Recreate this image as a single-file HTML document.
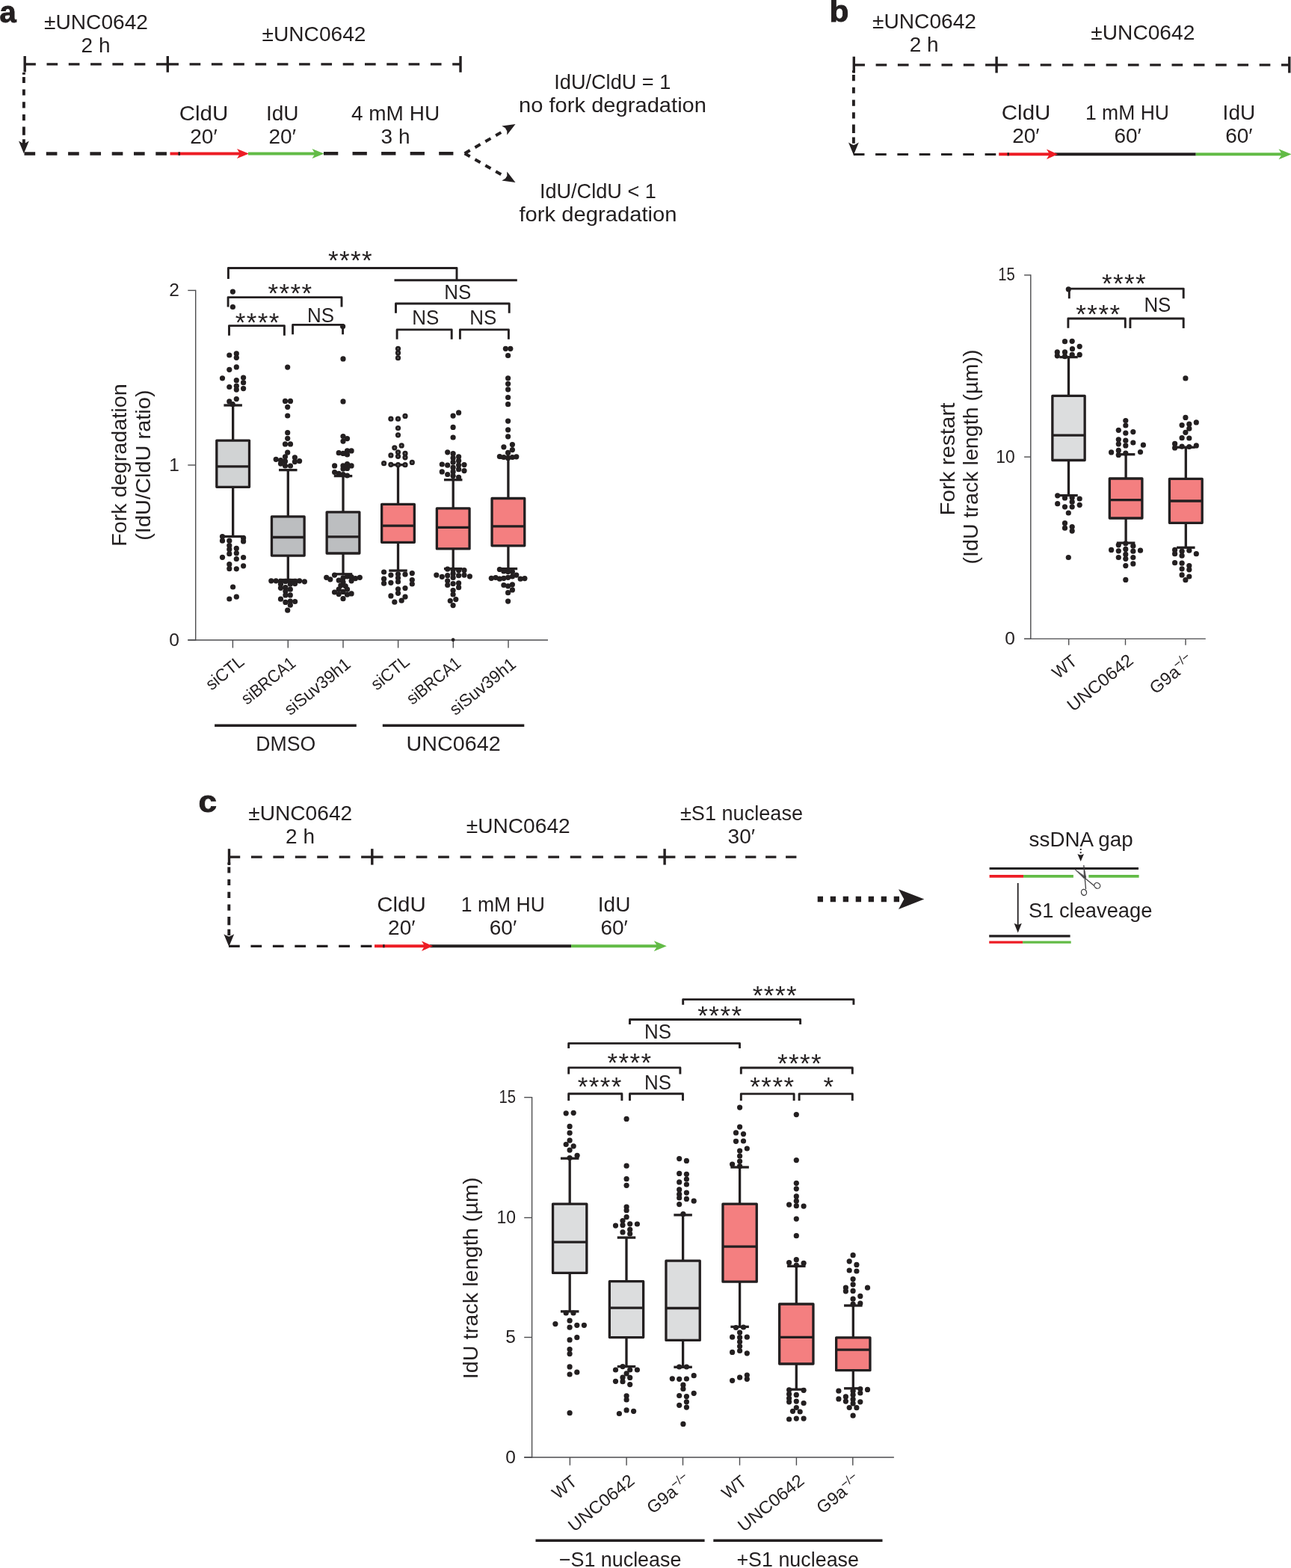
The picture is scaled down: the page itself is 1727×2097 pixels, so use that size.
<!DOCTYPE html>
<html lang="en">
<head>
<meta charset="utf-8">
<title>Fork degradation, fork restart and ssDNA gap assays</title>
<style>
html,body{margin:0;padding:0;background:#fff;}
body{width:1727px;height:2097px;overflow:hidden;}
svg{display:block;font-family:"Liberation Sans",sans-serif;}
</style>
</head>
<body>
<svg width="1727" height="2097" viewBox="0 0 1727 2097">
<rect width="1727" height="2097" fill="#fff"/>
<!-- panel a: schematic -->
<text x="-0.6" y="29.5" font-size="40" text-anchor="start" fill="#231f20" font-weight="bold" stroke="#231f20" stroke-width="0.9">a</text>
<text x="128.5" y="39.2" font-size="28" text-anchor="middle" fill="#231f20" textLength="139" lengthAdjust="spacingAndGlyphs">±UNC0642</text>
<text x="128" y="69.7" font-size="28" text-anchor="middle" fill="#231f20">2 h</text>
<text x="420" y="54.8" font-size="28" text-anchor="middle" fill="#231f20" textLength="139" lengthAdjust="spacingAndGlyphs">±UNC0642</text>
<line x1="33.2" y1="85.9" x2="224.3" y2="85.9" stroke="#231f20" stroke-width="3.2" stroke-linecap="butt" stroke-dasharray="14.65 14.65"/>
<line x1="224.3" y1="85.9" x2="616" y2="85.9" stroke="#231f20" stroke-width="3.2" stroke-linecap="butt" stroke-dasharray="14.65 14.65"/>
<line x1="33.2" y1="75" x2="33.2" y2="96.4" stroke="#231f20" stroke-width="3.4" stroke-linecap="butt"/>
<line x1="224.3" y1="75" x2="224.3" y2="96.7" stroke="#231f20" stroke-width="3.4" stroke-linecap="butt"/>
<line x1="616" y1="75" x2="616" y2="96.7" stroke="#231f20" stroke-width="3.4" stroke-linecap="butt"/>
<path d="M31.9 97.0V99.7M31.9 102.9V111.0M31.9 119.5V127.6M31.9 136.2V144.6M31.9 153.0V161.2M31.9 169.4V180.7M31.9 186.2V191.9" stroke="#231f20" stroke-width="3.9" fill="none"/>
<path d="M31.9 205.3 L25.0 188.5 Q28.9 191.10000000000002 31.9 191.9 Q34.9 191.10000000000002 38.8 188.5 Z" fill="#231f20"/>
<line x1="32.5" y1="205.5" x2="227" y2="205.5" stroke="#231f20" stroke-width="4.3" stroke-linecap="butt" stroke-dasharray="14.65 14.65"/>
<line x1="227.5" y1="205.5" x2="322" y2="205.5" stroke="#ed1c24" stroke-width="4.2" stroke-linecap="butt"/>
<path transform="translate(333 205.5) rotate(0)" d="M0 0 L-16 -6.5 L-12 0 L-16 6.5 Z" fill="#ed1c24"/>
<line x1="239.7" y1="203.3" x2="239.7" y2="207.8" stroke="#231f20" stroke-width="2.6" stroke-linecap="butt"/>
<line x1="332" y1="205.5" x2="422" y2="205.5" stroke="#62bb46" stroke-width="4.2" stroke-linecap="butt"/>
<path transform="translate(433.5 205.5) rotate(0)" d="M0 0 L-16 -6.5 L-12 0 L-16 6.5 Z" fill="#62bb46"/>
<line x1="433" y1="205.3" x2="606.4" y2="205.3" stroke="#231f20" stroke-width="4.4" stroke-linecap="butt" stroke-dasharray="19.3 19.25"/>
<text x="272.5" y="161" font-size="28" text-anchor="middle" fill="#231f20" textLength="65.6" lengthAdjust="spacingAndGlyphs">CldU</text>
<text x="272.5" y="192" font-size="28" text-anchor="middle" fill="#231f20">20′</text>
<text x="377.7" y="161" font-size="28" text-anchor="middle" fill="#231f20">IdU</text>
<text x="377.7" y="192" font-size="28" text-anchor="middle" fill="#231f20">20′</text>
<text x="529" y="161" font-size="28" text-anchor="middle" fill="#231f20">4 mM HU</text>
<text x="529" y="192" font-size="28" text-anchor="middle" fill="#231f20">3 h</text>
<line x1="621.6" y1="205.2" x2="680" y2="171.5" stroke="#231f20" stroke-width="4" stroke-linecap="butt" stroke-dasharray="8.2 7.8"/>
<path transform="translate(689.5 166) rotate(-30)" d="M0 0 L-17 -7.0 L-13 0 L-17 7.0 Z" fill="#231f20"/>
<line x1="621.6" y1="205.2" x2="680" y2="238.9" stroke="#231f20" stroke-width="4" stroke-linecap="butt" stroke-dasharray="8.2 7.8"/>
<path transform="translate(689.5 244) rotate(30)" d="M0 0 L-17 -7.0 L-13 0 L-17 7.0 Z" fill="#231f20"/>
<text x="819.3" y="119" font-size="28" text-anchor="middle" fill="#231f20" textLength="156" lengthAdjust="spacingAndGlyphs">IdU/CldU = 1</text>
<text x="819.5" y="149.7" font-size="28" text-anchor="middle" fill="#231f20" textLength="251" lengthAdjust="spacingAndGlyphs">no fork degradation</text>
<text x="799.9" y="265" font-size="28" text-anchor="middle" fill="#231f20" textLength="156" lengthAdjust="spacingAndGlyphs">IdU/CldU &lt; 1</text>
<text x="800" y="296" font-size="28" text-anchor="middle" fill="#231f20" textLength="211" lengthAdjust="spacingAndGlyphs">fork degradation</text>
<!-- panel a: chart -->
<line x1="261.7" y1="387.7" x2="261.7" y2="856.7" stroke="#4d4d4f" stroke-width="1.4" stroke-linecap="butt"/>
<line x1="251.29999999999998" y1="856" x2="733" y2="856" stroke="#4d4d4f" stroke-width="1.4" stroke-linecap="butt"/>
<line x1="251.29999999999998" y1="388.4" x2="261.7" y2="388.4" stroke="#4d4d4f" stroke-width="1.4" stroke-linecap="butt"/>
<text x="239.8" y="395.9" font-size="24.5" text-anchor="end" fill="#231f20">2</text>
<line x1="251.29999999999998" y1="622" x2="261.7" y2="622" stroke="#4d4d4f" stroke-width="1.4" stroke-linecap="butt"/>
<text x="239.8" y="629.5" font-size="24.5" text-anchor="end" fill="#231f20">1</text>
<line x1="251.29999999999998" y1="856" x2="261.7" y2="856" stroke="#4d4d4f" stroke-width="1.4" stroke-linecap="butt"/>
<text x="239.8" y="863.5" font-size="24.5" text-anchor="end" fill="#231f20">0</text>
<line x1="311.4" y1="856" x2="311.4" y2="866.5" stroke="#4d4d4f" stroke-width="1.4" stroke-linecap="butt"/>
<line x1="385.3" y1="856" x2="385.3" y2="866.5" stroke="#4d4d4f" stroke-width="1.4" stroke-linecap="butt"/>
<line x1="459" y1="856" x2="459" y2="866.5" stroke="#4d4d4f" stroke-width="1.4" stroke-linecap="butt"/>
<line x1="532.6" y1="856" x2="532.6" y2="866.5" stroke="#4d4d4f" stroke-width="1.4" stroke-linecap="butt"/>
<line x1="606.3" y1="856" x2="606.3" y2="866.5" stroke="#4d4d4f" stroke-width="1.4" stroke-linecap="butt"/>
<line x1="680" y1="856" x2="680" y2="866.5" stroke="#4d4d4f" stroke-width="1.4" stroke-linecap="butt"/>
<text x="169.5" y="622.1" font-size="28" text-anchor="middle" fill="#231f20" transform="rotate(-90 169.5 622.1)" textLength="217.5" lengthAdjust="spacingAndGlyphs">Fork degradation</text>
<text x="200.8" y="622.1" font-size="28" text-anchor="middle" fill="#231f20" transform="rotate(-90 200.8 622.1)" textLength="201.4" lengthAdjust="spacingAndGlyphs">(IdU/CldU ratio)</text>
<line x1="311.65" y1="542" x2="311.65" y2="589.1" stroke="#231f20" stroke-width="3.3" stroke-linecap="butt"/>
<line x1="311.65" y1="651.3" x2="311.65" y2="717.5" stroke="#231f20" stroke-width="3.3" stroke-linecap="butt"/>
<line x1="299.4" y1="542" x2="323.9" y2="542" stroke="#231f20" stroke-width="3.3" stroke-linecap="butt"/>
<line x1="299.4" y1="717.5" x2="323.9" y2="717.5" stroke="#231f20" stroke-width="3.3" stroke-linecap="butt"/>
<rect x="289.79999999999995" y="589.1" width="43.7" height="62.19999999999993" fill="#d1d3d4" stroke="#231f20" stroke-width="3.3" stroke-linejoin="round"/>
<line x1="289.79999999999995" y1="623.9" x2="333.49999999999994" y2="623.9" stroke="#231f20" stroke-width="3.3" stroke-linecap="butt"/>
<line x1="385.3" y1="628.6" x2="385.3" y2="690.9" stroke="#231f20" stroke-width="3.3" stroke-linecap="butt"/>
<line x1="385.3" y1="743.1" x2="385.3" y2="775.5" stroke="#231f20" stroke-width="3.3" stroke-linecap="butt"/>
<line x1="373.05" y1="628.6" x2="397.55" y2="628.6" stroke="#231f20" stroke-width="3.3" stroke-linecap="butt"/>
<line x1="373.05" y1="775.5" x2="397.55" y2="775.5" stroke="#231f20" stroke-width="3.3" stroke-linecap="butt"/>
<rect x="363.45" y="690.9" width="43.7" height="52.200000000000045" fill="#bcbec0" stroke="#231f20" stroke-width="3.3" stroke-linejoin="round"/>
<line x1="363.45" y1="718.5" x2="407.15" y2="718.5" stroke="#231f20" stroke-width="3.3" stroke-linecap="butt"/>
<line x1="459" y1="636.6" x2="459" y2="684.8" stroke="#231f20" stroke-width="3.3" stroke-linecap="butt"/>
<line x1="459" y1="740" x2="459" y2="767.8" stroke="#231f20" stroke-width="3.3" stroke-linecap="butt"/>
<line x1="446.75" y1="636.6" x2="471.25" y2="636.6" stroke="#231f20" stroke-width="3.3" stroke-linecap="butt"/>
<line x1="446.75" y1="767.8" x2="471.25" y2="767.8" stroke="#231f20" stroke-width="3.3" stroke-linecap="butt"/>
<rect x="437.15" y="684.8" width="43.7" height="55.200000000000045" fill="#bcbec0" stroke="#231f20" stroke-width="3.3" stroke-linejoin="round"/>
<line x1="437.15" y1="717.9" x2="480.84999999999997" y2="717.9" stroke="#231f20" stroke-width="3.3" stroke-linecap="butt"/>
<line x1="532.5" y1="621.7" x2="532.5" y2="674.4" stroke="#231f20" stroke-width="3.3" stroke-linecap="butt"/>
<line x1="532.5" y1="725.3" x2="532.5" y2="763.1" stroke="#231f20" stroke-width="3.3" stroke-linecap="butt"/>
<line x1="520.25" y1="621.7" x2="544.75" y2="621.7" stroke="#231f20" stroke-width="3.3" stroke-linecap="butt"/>
<line x1="520.25" y1="763.1" x2="544.75" y2="763.1" stroke="#231f20" stroke-width="3.3" stroke-linecap="butt"/>
<rect x="510.65" y="674.4" width="43.7" height="50.89999999999998" fill="#f47f80" stroke="#231f20" stroke-width="3.3" stroke-linejoin="round"/>
<line x1="510.65" y1="703.2" x2="554.35" y2="703.2" stroke="#231f20" stroke-width="3.3" stroke-linecap="butt"/>
<line x1="606.2" y1="641.7" x2="606.2" y2="679.8" stroke="#231f20" stroke-width="3.3" stroke-linecap="butt"/>
<line x1="606.2" y1="733.9" x2="606.2" y2="760.6" stroke="#231f20" stroke-width="3.3" stroke-linecap="butt"/>
<line x1="593.95" y1="641.7" x2="618.45" y2="641.7" stroke="#231f20" stroke-width="3.3" stroke-linecap="butt"/>
<line x1="593.95" y1="760.6" x2="618.45" y2="760.6" stroke="#231f20" stroke-width="3.3" stroke-linecap="butt"/>
<rect x="584.35" y="679.8" width="43.7" height="54.10000000000002" fill="#f47f80" stroke="#231f20" stroke-width="3.3" stroke-linejoin="round"/>
<line x1="584.35" y1="705.4" x2="628.0500000000001" y2="705.4" stroke="#231f20" stroke-width="3.3" stroke-linecap="butt"/>
<line x1="679.9" y1="612.4" x2="679.9" y2="666.5" stroke="#231f20" stroke-width="3.3" stroke-linecap="butt"/>
<line x1="679.9" y1="729.8" x2="679.9" y2="760.6" stroke="#231f20" stroke-width="3.3" stroke-linecap="butt"/>
<line x1="667.65" y1="612.4" x2="692.15" y2="612.4" stroke="#231f20" stroke-width="3.3" stroke-linecap="butt"/>
<line x1="667.65" y1="760.6" x2="692.15" y2="760.6" stroke="#231f20" stroke-width="3.3" stroke-linecap="butt"/>
<rect x="658.05" y="666.5" width="43.7" height="63.299999999999955" fill="#f47f80" stroke="#231f20" stroke-width="3.3" stroke-linejoin="round"/>
<line x1="658.05" y1="703.9" x2="701.75" y2="703.9" stroke="#231f20" stroke-width="3.3" stroke-linecap="butt"/>
<g fill="#231f20"><circle cx="306.8" cy="475.0" r="3.6"/><circle cx="316.3" cy="472.9" r="3.6"/><circle cx="316.3" cy="478.3" r="3.6"/><circle cx="316.3" cy="490.9" r="3.6"/><circle cx="306.8" cy="494.3" r="3.6"/><circle cx="297.5" cy="505.8" r="3.6"/><circle cx="325.6" cy="505.0" r="3.6"/><circle cx="316.3" cy="508.7" r="3.6"/><circle cx="325.6" cy="511.7" r="3.6"/><circle cx="306.8" cy="517.5" r="3.6"/><circle cx="316.3" cy="516.2" r="3.6"/><circle cx="316.3" cy="521.1" r="3.6"/><circle cx="325.6" cy="519.6" r="3.6"/><circle cx="316.3" cy="533.6" r="3.6"/><circle cx="306.8" cy="536.9" r="3.6"/><circle cx="311.2" cy="540.7" r="3.6"/><circle cx="297.5" cy="717.5" r="3.6"/><circle cx="325.6" cy="719.4" r="3.6"/><circle cx="297.5" cy="723.2" r="3.6"/><circle cx="306.8" cy="723.2" r="3.6"/><circle cx="325.6" cy="723.9" r="3.6"/><circle cx="306.8" cy="729.6" r="3.6"/><circle cx="306.8" cy="734.7" r="3.6"/><circle cx="316.3" cy="733.4" r="3.6"/><circle cx="306.8" cy="740.7" r="3.6"/><circle cx="316.3" cy="739.8" r="3.6"/><circle cx="297.5" cy="745.3" r="3.6"/><circle cx="325.6" cy="745.5" r="3.6"/><circle cx="316.3" cy="747.5" r="3.6"/><circle cx="306.8" cy="754.7" r="3.6"/><circle cx="325.6" cy="756.8" r="3.6"/><circle cx="306.8" cy="760.6" r="3.6"/><circle cx="316.3" cy="760.8" r="3.6"/><circle cx="311.6" cy="785.0" r="3.6"/><circle cx="316.3" cy="798.2" r="3.6"/><circle cx="306.8" cy="801.0" r="3.6"/><circle cx="384.7" cy="491.1" r="3.6"/><circle cx="381.5" cy="536.4" r="3.6"/><circle cx="388.5" cy="536.4" r="3.6"/><circle cx="384.7" cy="544.3" r="3.6"/><circle cx="384.7" cy="556.0" r="3.6"/><circle cx="384.7" cy="578.7" r="3.6"/><circle cx="384.7" cy="586.3" r="3.6"/><circle cx="381.5" cy="593.9" r="3.6"/><circle cx="388.5" cy="593.9" r="3.6"/><circle cx="384.7" cy="605.2" r="3.6"/><circle cx="381.5" cy="610.8" r="3.6"/><circle cx="394.4" cy="611.8" r="3.6"/><circle cx="369.2" cy="614.3" r="3.6"/><circle cx="375.5" cy="615.6" r="3.6"/><circle cx="381.5" cy="616.9" r="3.6"/><circle cx="394.4" cy="617.6" r="3.6"/><circle cx="400.6" cy="616.6" r="3.6"/><circle cx="375.5" cy="620.1" r="3.6"/><circle cx="381.5" cy="623.0" r="3.6"/><circle cx="388.5" cy="623.0" r="3.6"/><circle cx="362.8" cy="776.8" r="3.6"/><circle cx="369.2" cy="776.8" r="3.6"/><circle cx="375.5" cy="777.4" r="3.6"/><circle cx="381.9" cy="777.4" r="3.6"/><circle cx="388.3" cy="777.4" r="3.6"/><circle cx="394.6" cy="777.4" r="3.6"/><circle cx="400.6" cy="776.8" r="3.6"/><circle cx="407.4" cy="777.8" r="3.6"/><circle cx="375.5" cy="781.2" r="3.6"/><circle cx="388.3" cy="781.2" r="3.6"/><circle cx="394.6" cy="780.6" r="3.6"/><circle cx="375.5" cy="786.3" r="3.6"/><circle cx="381.9" cy="785.7" r="3.6"/><circle cx="388.3" cy="788.2" r="3.6"/><circle cx="381.9" cy="790.8" r="3.6"/><circle cx="381.9" cy="795.9" r="3.6"/><circle cx="388.3" cy="795.9" r="3.6"/><circle cx="375.5" cy="801.2" r="3.6"/><circle cx="381.9" cy="805.4" r="3.6"/><circle cx="388.3" cy="804.1" r="3.6"/><circle cx="394.6" cy="804.5" r="3.6"/><circle cx="388.3" cy="809.2" r="3.6"/><circle cx="384.7" cy="816.2" r="3.6"/><circle cx="459.0" cy="479.9" r="3.6"/><circle cx="459.0" cy="536.9" r="3.6"/><circle cx="459.0" cy="583.5" r="3.6"/><circle cx="464.5" cy="586.6" r="3.6"/><circle cx="459.0" cy="590.1" r="3.6"/><circle cx="470.1" cy="602.9" r="3.6"/><circle cx="464.5" cy="602.9" r="3.6"/><circle cx="453.2" cy="605.7" r="3.6"/><circle cx="459.0" cy="606.4" r="3.6"/><circle cx="464.5" cy="608.0" r="3.6"/><circle cx="447.6" cy="622.9" r="3.6"/><circle cx="459.0" cy="622.9" r="3.6"/><circle cx="464.5" cy="620.7" r="3.6"/><circle cx="470.1" cy="622.9" r="3.6"/><circle cx="459.0" cy="627.1" r="3.6"/><circle cx="464.5" cy="626.4" r="3.6"/><circle cx="447.6" cy="631.5" r="3.6"/><circle cx="453.2" cy="633.4" r="3.6"/><circle cx="459.0" cy="634.5" r="3.6"/><circle cx="464.5" cy="636.0" r="3.6"/><circle cx="436.7" cy="772.3" r="3.6"/><circle cx="447.5" cy="769.1" r="3.6"/><circle cx="441.8" cy="774.8" r="3.6"/><circle cx="453.2" cy="776.1" r="3.6"/><circle cx="459.0" cy="772.9" r="3.6"/><circle cx="464.5" cy="771.0" r="3.6"/><circle cx="470.1" cy="771.7" r="3.6"/><circle cx="475.5" cy="773.6" r="3.6"/><circle cx="481.3" cy="772.3" r="3.6"/><circle cx="470.1" cy="776.8" r="3.6"/><circle cx="459.0" cy="778.7" r="3.6"/><circle cx="455.8" cy="783.1" r="3.6"/><circle cx="462.2" cy="783.8" r="3.6"/><circle cx="453.2" cy="788.2" r="3.6"/><circle cx="464.5" cy="788.2" r="3.6"/><circle cx="447.5" cy="792.0" r="3.6"/><circle cx="459.0" cy="791.4" r="3.6"/><circle cx="453.2" cy="794.6" r="3.6"/><circle cx="464.5" cy="795.2" r="3.6"/><circle cx="470.1" cy="793.9" r="3.6"/><circle cx="459.0" cy="800.7" r="3.6"/><circle cx="532.5" cy="466.3" r="3.6"/><circle cx="532.5" cy="471.9" r="3.6"/><circle cx="532.5" cy="478.7" r="3.6"/><circle cx="522.9" cy="560.2" r="3.6"/><circle cx="532.5" cy="560.2" r="3.6"/><circle cx="542.0" cy="556.4" r="3.6"/><circle cx="532.5" cy="572.5" r="3.6"/><circle cx="532.5" cy="581.8" r="3.6"/><circle cx="537.2" cy="595.9" r="3.6"/><circle cx="527.8" cy="598.8" r="3.6"/><circle cx="532.5" cy="604.8" r="3.6"/><circle cx="542.0" cy="606.4" r="3.6"/><circle cx="522.9" cy="608.9" r="3.6"/><circle cx="532.5" cy="610.3" r="3.6"/><circle cx="542.0" cy="611.8" r="3.6"/><circle cx="513.6" cy="619.7" r="3.6"/><circle cx="522.9" cy="621.3" r="3.6"/><circle cx="532.5" cy="621.7" r="3.6"/><circle cx="542.0" cy="621.7" r="3.6"/><circle cx="551.3" cy="618.4" r="3.6"/><circle cx="513.6" cy="765.0" r="3.6"/><circle cx="551.3" cy="766.6" r="3.6"/><circle cx="522.9" cy="769.1" r="3.6"/><circle cx="532.5" cy="767.8" r="3.6"/><circle cx="542.0" cy="768.2" r="3.6"/><circle cx="513.6" cy="774.2" r="3.6"/><circle cx="532.5" cy="772.9" r="3.6"/><circle cx="551.3" cy="775.5" r="3.6"/><circle cx="513.6" cy="780.2" r="3.6"/><circle cx="522.9" cy="779.3" r="3.6"/><circle cx="532.5" cy="778.0" r="3.6"/><circle cx="551.3" cy="781.0" r="3.6"/><circle cx="532.5" cy="787.8" r="3.6"/><circle cx="542.0" cy="786.6" r="3.6"/><circle cx="532.5" cy="793.3" r="3.6"/><circle cx="522.9" cy="796.9" r="3.6"/><circle cx="542.0" cy="798.2" r="3.6"/><circle cx="537.2" cy="803.2" r="3.6"/><circle cx="527.8" cy="805.2" r="3.6"/><circle cx="613.6" cy="551.9" r="3.6"/><circle cx="606.1" cy="556.1" r="3.6"/><circle cx="606.1" cy="571.4" r="3.6"/><circle cx="606.1" cy="585.0" r="3.6"/><circle cx="598.7" cy="604.8" r="3.6"/><circle cx="606.1" cy="606.7" r="3.6"/><circle cx="613.6" cy="610.8" r="3.6"/><circle cx="606.1" cy="612.4" r="3.6"/><circle cx="613.6" cy="616.2" r="3.6"/><circle cx="606.1" cy="618.2" r="3.6"/><circle cx="591.3" cy="621.0" r="3.6"/><circle cx="598.7" cy="622.2" r="3.6"/><circle cx="613.6" cy="622.0" r="3.6"/><circle cx="621.0" cy="621.6" r="3.6"/><circle cx="606.1" cy="625.2" r="3.6"/><circle cx="613.6" cy="627.7" r="3.6"/><circle cx="591.3" cy="630.9" r="3.6"/><circle cx="621.0" cy="629.6" r="3.6"/><circle cx="606.1" cy="630.9" r="3.6"/><circle cx="598.7" cy="634.5" r="3.6"/><circle cx="606.1" cy="636.6" r="3.6"/><circle cx="613.6" cy="638.3" r="3.6"/><circle cx="598.7" cy="761.1" r="3.6"/><circle cx="606.1" cy="762.1" r="3.6"/><circle cx="613.6" cy="762.7" r="3.6"/><circle cx="621.0" cy="762.7" r="3.6"/><circle cx="583.8" cy="769.1" r="3.6"/><circle cx="591.3" cy="771.3" r="3.6"/><circle cx="598.7" cy="769.7" r="3.6"/><circle cx="606.1" cy="767.2" r="3.6"/><circle cx="613.6" cy="769.7" r="3.6"/><circle cx="621.0" cy="769.1" r="3.6"/><circle cx="628.4" cy="770.8" r="3.6"/><circle cx="606.1" cy="772.5" r="3.6"/><circle cx="598.7" cy="776.8" r="3.6"/><circle cx="606.1" cy="780.6" r="3.6"/><circle cx="613.6" cy="779.9" r="3.6"/><circle cx="598.7" cy="782.5" r="3.6"/><circle cx="613.6" cy="785.7" r="3.6"/><circle cx="606.1" cy="789.5" r="3.6"/><circle cx="606.1" cy="795.0" r="3.6"/><circle cx="609.8" cy="801.6" r="3.6"/><circle cx="602.3" cy="803.5" r="3.6"/><circle cx="606.1" cy="809.6" r="3.6"/><circle cx="676.4" cy="466.3" r="3.6"/><circle cx="682.8" cy="466.3" r="3.6"/><circle cx="679.6" cy="475.5" r="3.6"/><circle cx="679.6" cy="505.8" r="3.6"/><circle cx="679.6" cy="513.3" r="3.6"/><circle cx="679.6" cy="520.8" r="3.6"/><circle cx="679.6" cy="531.5" r="3.6"/><circle cx="679.6" cy="540.7" r="3.6"/><circle cx="679.6" cy="563.1" r="3.6"/><circle cx="679.6" cy="574.8" r="3.6"/><circle cx="679.6" cy="583.8" r="3.6"/><circle cx="685.4" cy="594.6" r="3.6"/><circle cx="673.9" cy="597.8" r="3.6"/><circle cx="685.4" cy="601.6" r="3.6"/><circle cx="679.6" cy="605.4" r="3.6"/><circle cx="668.4" cy="610.5" r="3.6"/><circle cx="673.9" cy="611.5" r="3.6"/><circle cx="679.6" cy="612.4" r="3.6"/><circle cx="685.4" cy="611.5" r="3.6"/><circle cx="690.8" cy="610.8" r="3.6"/><circle cx="668.4" cy="761.5" r="3.6"/><circle cx="673.9" cy="764.0" r="3.6"/><circle cx="679.6" cy="764.6" r="3.6"/><circle cx="685.4" cy="764.6" r="3.6"/><circle cx="690.8" cy="769.1" r="3.6"/><circle cx="657.3" cy="773.3" r="3.6"/><circle cx="663.1" cy="772.5" r="3.6"/><circle cx="668.4" cy="774.2" r="3.6"/><circle cx="673.9" cy="773.3" r="3.6"/><circle cx="679.6" cy="772.3" r="3.6"/><circle cx="685.4" cy="771.0" r="3.6"/><circle cx="696.2" cy="774.2" r="3.6"/><circle cx="701.9" cy="773.6" r="3.6"/><circle cx="673.9" cy="782.5" r="3.6"/><circle cx="679.6" cy="783.8" r="3.6"/><circle cx="685.4" cy="781.8" r="3.6"/><circle cx="685.4" cy="788.9" r="3.6"/><circle cx="679.6" cy="792.7" r="3.6"/><circle cx="679.6" cy="804.1" r="3.6"/><circle cx="311.4" cy="390.1" r="3.6"/><circle cx="311.4" cy="410.5" r="3.6"/><circle cx="458.6" cy="436.5" r="3.6"/></g>
<g fill="#77787b"><circle cx="532.5" cy="466.3" r="0.9"/><circle cx="532.5" cy="471.9" r="0.9"/><circle cx="532.5" cy="478.7" r="0.9"/><circle cx="522.9" cy="560.2" r="0.9"/><circle cx="532.5" cy="560.2" r="0.9"/><circle cx="542.0" cy="556.4" r="0.9"/><circle cx="532.5" cy="572.5" r="0.9"/><circle cx="532.5" cy="581.8" r="0.9"/><circle cx="537.2" cy="595.9" r="0.9"/><circle cx="527.8" cy="598.8" r="0.9"/><circle cx="532.5" cy="604.8" r="0.9"/><circle cx="542.0" cy="606.4" r="0.9"/><circle cx="522.9" cy="608.9" r="0.9"/><circle cx="532.5" cy="610.3" r="0.9"/><circle cx="542.0" cy="611.8" r="0.9"/><circle cx="513.6" cy="619.7" r="0.9"/><circle cx="522.9" cy="621.3" r="0.9"/><circle cx="532.5" cy="621.7" r="0.9"/><circle cx="542.0" cy="621.7" r="0.9"/><circle cx="551.3" cy="618.4" r="0.9"/></g>
<g fill="#231f20"><circle cx="606.1" cy="855.7" r="2.4"/></g>
<path d="M305.4 373 V358.5 H611 V374.8" stroke="#231f20" stroke-width="2.9" fill="none" stroke-linejoin="round"/>
<line x1="527.5" y1="374.8" x2="691.8" y2="374.8" stroke="#231f20" stroke-width="2.9" stroke-linecap="butt"/>
<text x="469.1" y="360.48" font-size="35" text-anchor="middle" fill="#231f20" letter-spacing="1.4">****</text>
<text x="612.3" y="400.4" font-size="27" text-anchor="middle" fill="#231f20" textLength="36" lengthAdjust="spacingAndGlyphs">NS</text>
<path d="M529.5 418.7 V406 H681.2 V418.7" stroke="#231f20" stroke-width="2.9" fill="none" stroke-linejoin="round"/>
<path d="M305.1 410.6 V397.6 H457 V410.6" stroke="#231f20" stroke-width="2.9" fill="none" stroke-linejoin="round"/>
<text x="388.6" y="403.88" font-size="35" text-anchor="middle" fill="#231f20" letter-spacing="1.4">****</text>
<path d="M306.5 448.7 V435.6 H380.4 V448.7" stroke="#231f20" stroke-width="2.9" fill="none" stroke-linejoin="round"/>
<text x="344.7" y="442.98" font-size="35" text-anchor="middle" fill="#231f20" letter-spacing="1.4">****</text>
<path d="M391.6 447.2 V434.4 H458.6 V447.2" stroke="#231f20" stroke-width="2.9" fill="none" stroke-linejoin="round"/>
<text x="429" y="430.6" font-size="27" text-anchor="middle" fill="#231f20" textLength="36" lengthAdjust="spacingAndGlyphs">NS</text>
<path d="M531.1 453.8 V440.9 H604.2 V453.8" stroke="#231f20" stroke-width="2.9" fill="none" stroke-linejoin="round"/>
<text x="569.3" y="433.6" font-size="27" text-anchor="middle" fill="#231f20" textLength="36" lengthAdjust="spacingAndGlyphs">NS</text>
<path d="M615.4 453.8 V440.9 H680.4 V453.8" stroke="#231f20" stroke-width="2.9" fill="none" stroke-linejoin="round"/>
<text x="646.3" y="433.6" font-size="27" text-anchor="middle" fill="#231f20" textLength="36" lengthAdjust="spacingAndGlyphs">NS</text>
<text x="328.2" y="887.4" font-size="23.3" text-anchor="end" fill="#231f20" transform="rotate(-39 328.2 887.4)" textLength="58.3" lengthAdjust="spacingAndGlyphs">siCTL</text>
<text x="397" y="889.5" font-size="23.3" text-anchor="end" fill="#231f20" transform="rotate(-39 397 889.5)" textLength="85.5" lengthAdjust="spacingAndGlyphs">siBRCA1</text>
<text x="470.6" y="890.8" font-size="23.3" text-anchor="end" fill="#231f20" transform="rotate(-39 470.6 890.8)" textLength="106.1" lengthAdjust="spacingAndGlyphs">siSuv39h1</text>
<text x="549.4" y="887.4" font-size="23.3" text-anchor="end" fill="#231f20" transform="rotate(-39 549.4 887.4)" textLength="58.3" lengthAdjust="spacingAndGlyphs">siCTL</text>
<text x="618.2" y="889.5" font-size="23.3" text-anchor="end" fill="#231f20" transform="rotate(-39 618.2 889.5)" textLength="85.5" lengthAdjust="spacingAndGlyphs">siBRCA1</text>
<text x="691.8" y="890.8" font-size="23.3" text-anchor="end" fill="#231f20" transform="rotate(-39 691.8 890.8)" textLength="106.1" lengthAdjust="spacingAndGlyphs">siSuv39h1</text>
<line x1="287.1" y1="970.3" x2="476.8" y2="970.3" stroke="#231f20" stroke-width="3.5" stroke-linecap="butt"/>
<line x1="511.8" y1="970.3" x2="701.3" y2="970.3" stroke="#231f20" stroke-width="3.5" stroke-linecap="butt"/>
<text x="382.3" y="1004.3" font-size="27" text-anchor="middle" fill="#231f20" textLength="80" lengthAdjust="spacingAndGlyphs">DMSO</text>
<text x="606.6" y="1004.3" font-size="27" text-anchor="middle" fill="#231f20" textLength="126" lengthAdjust="spacingAndGlyphs">UNC0642</text>
<!-- panel b: schematic -->
<text x="1109.6" y="29.3" font-size="40" text-anchor="start" fill="#231f20" font-weight="bold" textLength="26" lengthAdjust="spacingAndGlyphs" stroke="#231f20" stroke-width="0.9">b</text>
<text x="1236.5" y="38" font-size="28" text-anchor="middle" fill="#231f20" textLength="139" lengthAdjust="spacingAndGlyphs">±UNC0642</text>
<text x="1236.1" y="68.9" font-size="28" text-anchor="middle" fill="#231f20">2 h</text>
<text x="1528.8" y="53.4" font-size="28" text-anchor="middle" fill="#231f20" textLength="139" lengthAdjust="spacingAndGlyphs">±UNC0642</text>
<line x1="1142.3" y1="86.8" x2="1333.1" y2="86.8" stroke="#231f20" stroke-width="3.2" stroke-linecap="butt" stroke-dasharray="14.65 14.65"/>
<line x1="1333.1" y1="86.8" x2="1724.8" y2="86.8" stroke="#231f20" stroke-width="3.2" stroke-linecap="butt" stroke-dasharray="14.65 14.65"/>
<line x1="1142.3" y1="75.7" x2="1142.3" y2="97.6" stroke="#231f20" stroke-width="3.4" stroke-linecap="butt"/>
<line x1="1333.1" y1="75.7" x2="1333.1" y2="97.5" stroke="#231f20" stroke-width="3.4" stroke-linecap="butt"/>
<line x1="1724.8" y1="75.7" x2="1724.8" y2="97.5" stroke="#231f20" stroke-width="3.4" stroke-linecap="butt"/>
<path d="M1141.9 94.2V96.9M1141.9 100.1V108.2M1141.9 116.7V124.8M1141.9 133.4V141.8M1141.9 150.2V158.4M1141.9 166.6V177.9M1141.9 183.4V191.7" stroke="#231f20" stroke-width="3.9" fill="none"/>
<path d="M1141.9 207.3 L1135.0 190.5 Q1138.9 193.10000000000002 1141.9 193.9 Q1144.9 193.10000000000002 1148.8000000000002 190.5 Z" fill="#231f20"/>
<line x1="1141.8" y1="206.5" x2="1336" y2="206.5" stroke="#231f20" stroke-width="3.2" stroke-linecap="butt" stroke-dasharray="14.65 14.65"/>
<line x1="1336.2" y1="206.2" x2="1404" y2="206.2" stroke="#ed1c24" stroke-width="4.1" stroke-linecap="butt"/>
<line x1="1411" y1="206.2" x2="1599.7" y2="206.2" stroke="#231f20" stroke-width="4.1" stroke-linecap="butt"/>
<path transform="translate(1415 206.2) rotate(0)" d="M0 0 L-15 -6.75 L-11 0 L-15 6.75 Z" fill="#ed1c24"/>
<line x1="1348.7" y1="204.1" x2="1348.7" y2="208.3" stroke="#231f20" stroke-width="2.4" stroke-linecap="butt"/>
<line x1="1599.7" y1="206.2" x2="1716" y2="206.2" stroke="#62bb46" stroke-width="4.1" stroke-linecap="butt"/>
<path transform="translate(1727.5 206.2) rotate(0)" d="M0 0 L-17 -7.0 L-12.5 0 L-17 7.0 Z" fill="#62bb46"/>
<text x="1372.6" y="159.7" font-size="28" text-anchor="middle" fill="#231f20" textLength="65.6" lengthAdjust="spacingAndGlyphs">CldU</text>
<text x="1372.4" y="190.8" font-size="28" text-anchor="middle" fill="#231f20">20′</text>
<text x="1508" y="159.7" font-size="28" text-anchor="middle" fill="#231f20" textLength="112" lengthAdjust="spacingAndGlyphs">1 mM HU</text>
<text x="1508.6" y="190.8" font-size="28" text-anchor="middle" fill="#231f20">60′</text>
<text x="1657.4" y="159.7" font-size="28" text-anchor="middle" fill="#231f20">IdU</text>
<text x="1657.4" y="190.8" font-size="28" text-anchor="middle" fill="#231f20">60′</text>
<!-- panel b: chart -->
<line x1="1378.8" y1="367.2" x2="1378.8" y2="855.1" stroke="#4d4d4f" stroke-width="1.4" stroke-linecap="butt"/>
<line x1="1370.1" y1="854.4" x2="1612.8" y2="854.4" stroke="#4d4d4f" stroke-width="1.4" stroke-linecap="butt"/>
<line x1="1370.1" y1="367.9" x2="1378.8" y2="367.9" stroke="#4d4d4f" stroke-width="1.4" stroke-linecap="butt"/>
<text x="1357.8" y="375.4" font-size="24.5" text-anchor="end" fill="#231f20" textLength="22.5" lengthAdjust="spacingAndGlyphs">15</text>
<line x1="1370.1" y1="611.1" x2="1378.8" y2="611.1" stroke="#4d4d4f" stroke-width="1.4" stroke-linecap="butt"/>
<text x="1357.8" y="618.6" font-size="24.5" text-anchor="end" fill="#231f20" textLength="25.5" lengthAdjust="spacingAndGlyphs">10</text>
<line x1="1370.1" y1="854.4" x2="1378.8" y2="854.4" stroke="#4d4d4f" stroke-width="1.4" stroke-linecap="butt"/>
<text x="1357.8" y="861.9" font-size="24.5" text-anchor="end" fill="#231f20">0</text>
<line x1="1429.7" y1="854.4" x2="1429.7" y2="862.6999999999999" stroke="#4d4d4f" stroke-width="1.4" stroke-linecap="butt"/>
<line x1="1505.5" y1="854.4" x2="1505.5" y2="862.6999999999999" stroke="#4d4d4f" stroke-width="1.4" stroke-linecap="butt"/>
<line x1="1586" y1="854.4" x2="1586" y2="862.6999999999999" stroke="#4d4d4f" stroke-width="1.4" stroke-linecap="butt"/>
<text x="1277.4" y="614" font-size="28" text-anchor="middle" fill="#231f20" transform="rotate(-90 1277.4 614)" textLength="151" lengthAdjust="spacingAndGlyphs">Fork restart</text>
<text x="1307.8" y="611" font-size="28" text-anchor="middle" fill="#231f20" transform="rotate(-90 1307.8 611)" textLength="287" lengthAdjust="spacingAndGlyphs">(IdU track length (µm))</text>
<line x1="1429.5" y1="477.6" x2="1429.5" y2="529.4" stroke="#231f20" stroke-width="3.3" stroke-linecap="butt"/>
<line x1="1429.5" y1="615.5" x2="1429.5" y2="662.6" stroke="#231f20" stroke-width="3.3" stroke-linecap="butt"/>
<line x1="1417.25" y1="477.6" x2="1441.75" y2="477.6" stroke="#231f20" stroke-width="3.3" stroke-linecap="butt"/>
<line x1="1417.25" y1="662.6" x2="1441.75" y2="662.6" stroke="#231f20" stroke-width="3.3" stroke-linecap="butt"/>
<rect x="1407.85" y="529.4" width="43.3" height="86.10000000000002" fill="#dcddde" stroke="#231f20" stroke-width="3.3" stroke-linejoin="round"/>
<line x1="1407.85" y1="582.2" x2="1451.1499999999999" y2="582.2" stroke="#231f20" stroke-width="3.3" stroke-linecap="butt"/>
<line x1="1506.1" y1="607.7" x2="1506.1" y2="640" stroke="#231f20" stroke-width="3.3" stroke-linecap="butt"/>
<line x1="1506.1" y1="693" x2="1506.1" y2="726.1" stroke="#231f20" stroke-width="3.3" stroke-linecap="butt"/>
<line x1="1493.85" y1="607.7" x2="1518.35" y2="607.7" stroke="#231f20" stroke-width="3.3" stroke-linecap="butt"/>
<line x1="1493.85" y1="726.1" x2="1518.35" y2="726.1" stroke="#231f20" stroke-width="3.3" stroke-linecap="butt"/>
<rect x="1484.3" y="640" width="43.6" height="53" fill="#f47f80" stroke="#231f20" stroke-width="3.3" stroke-linejoin="round"/>
<line x1="1484.3" y1="668.7" x2="1527.8999999999999" y2="668.7" stroke="#231f20" stroke-width="3.3" stroke-linecap="butt"/>
<line x1="1586.3" y1="598.2" x2="1586.3" y2="640.4" stroke="#231f20" stroke-width="3.3" stroke-linecap="butt"/>
<line x1="1586.3" y1="699.3" x2="1586.3" y2="732.3" stroke="#231f20" stroke-width="3.3" stroke-linecap="butt"/>
<line x1="1574.05" y1="598.2" x2="1598.55" y2="598.2" stroke="#231f20" stroke-width="3.3" stroke-linecap="butt"/>
<line x1="1574.05" y1="732.3" x2="1598.55" y2="732.3" stroke="#231f20" stroke-width="3.3" stroke-linecap="butt"/>
<rect x="1564.3999999999999" y="640.4" width="43.8" height="58.89999999999998" fill="#f47f80" stroke="#231f20" stroke-width="3.3" stroke-linejoin="round"/>
<line x1="1564.3999999999999" y1="670" x2="1608.1999999999998" y2="670" stroke="#231f20" stroke-width="3.3" stroke-linecap="butt"/>
<g fill="#231f20"><circle cx="1424.5" cy="456.7" r="3.6"/><circle cx="1434.2" cy="456.3" r="3.6"/><circle cx="1444.2" cy="463.3" r="3.6"/><circle cx="1434.5" cy="466.7" r="3.6"/><circle cx="1414.3" cy="470.9" r="3.6"/><circle cx="1424.5" cy="470.9" r="3.6"/><circle cx="1444.2" cy="474.4" r="3.6"/><circle cx="1414.3" cy="475.8" r="3.6"/><circle cx="1424.5" cy="476.7" r="3.6"/><circle cx="1434.2" cy="474.4" r="3.6"/><circle cx="1414.7" cy="662.8" r="3.6"/><circle cx="1424.5" cy="665.9" r="3.6"/><circle cx="1434.2" cy="665.6" r="3.6"/><circle cx="1444.2" cy="667.0" r="3.6"/><circle cx="1434.2" cy="671.2" r="3.6"/><circle cx="1414.7" cy="673.7" r="3.6"/><circle cx="1444.2" cy="675.3" r="3.6"/><circle cx="1424.5" cy="677.8" r="3.6"/><circle cx="1434.2" cy="677.8" r="3.6"/><circle cx="1429.3" cy="686.0" r="3.6"/><circle cx="1424.5" cy="699.7" r="3.6"/><circle cx="1424.5" cy="706.2" r="3.6"/><circle cx="1434.2" cy="704.5" r="3.6"/><circle cx="1434.2" cy="710.1" r="3.6"/><circle cx="1429.3" cy="745.5" r="3.6"/><circle cx="1505.8" cy="562.5" r="3.6"/><circle cx="1505.8" cy="569.0" r="3.6"/><circle cx="1496.3" cy="575.3" r="3.6"/><circle cx="1515.8" cy="577.6" r="3.6"/><circle cx="1505.8" cy="579.2" r="3.6"/><circle cx="1496.3" cy="587.8" r="3.6"/><circle cx="1505.8" cy="589.2" r="3.6"/><circle cx="1515.8" cy="592.0" r="3.6"/><circle cx="1496.3" cy="593.8" r="3.6"/><circle cx="1505.8" cy="595.9" r="3.6"/><circle cx="1529.4" cy="595.2" r="3.6"/><circle cx="1496.3" cy="602.4" r="3.6"/><circle cx="1486.6" cy="604.9" r="3.6"/><circle cx="1525.5" cy="604.5" r="3.6"/><circle cx="1505.8" cy="606.1" r="3.6"/><circle cx="1496.3" cy="608.4" r="3.6"/><circle cx="1496.3" cy="728.8" r="3.6"/><circle cx="1505.8" cy="726.8" r="3.6"/><circle cx="1515.8" cy="730.2" r="3.6"/><circle cx="1486.6" cy="735.4" r="3.6"/><circle cx="1496.3" cy="736.8" r="3.6"/><circle cx="1505.8" cy="734.4" r="3.6"/><circle cx="1515.8" cy="737.2" r="3.6"/><circle cx="1525.5" cy="736.2" r="3.6"/><circle cx="1505.8" cy="741.4" r="3.6"/><circle cx="1496.3" cy="745.5" r="3.6"/><circle cx="1505.8" cy="747.3" r="3.6"/><circle cx="1515.8" cy="745.5" r="3.6"/><circle cx="1515.8" cy="753.9" r="3.6"/><circle cx="1505.8" cy="756.6" r="3.6"/><circle cx="1505.8" cy="775.4" r="3.6"/><circle cx="1585.9" cy="558.4" r="3.6"/><circle cx="1585.9" cy="505.9" r="3.6"/><circle cx="1429.3" cy="386.8" r="3.6"/><circle cx="1600.3" cy="564.9" r="3.6"/><circle cx="1581.1" cy="568.6" r="3.6"/><circle cx="1590.8" cy="567.2" r="3.6"/><circle cx="1590.8" cy="573.2" r="3.6"/><circle cx="1585.9" cy="578.3" r="3.6"/><circle cx="1581.1" cy="585.7" r="3.6"/><circle cx="1590.8" cy="586.0" r="3.6"/><circle cx="1571.6" cy="593.4" r="3.6"/><circle cx="1600.3" cy="595.9" r="3.6"/><circle cx="1571.6" cy="598.9" r="3.6"/><circle cx="1581.1" cy="597.2" r="3.6"/><circle cx="1590.8" cy="597.5" r="3.6"/><circle cx="1571.6" cy="735.4" r="3.6"/><circle cx="1581.1" cy="737.2" r="3.6"/><circle cx="1590.8" cy="736.2" r="3.6"/><circle cx="1571.6" cy="740.7" r="3.6"/><circle cx="1581.1" cy="743.2" r="3.6"/><circle cx="1600.3" cy="740.7" r="3.6"/><circle cx="1571.6" cy="752.7" r="3.6"/><circle cx="1581.1" cy="753.2" r="3.6"/><circle cx="1590.8" cy="756.6" r="3.6"/><circle cx="1581.1" cy="760.8" r="3.6"/><circle cx="1590.8" cy="761.8" r="3.6"/><circle cx="1581.1" cy="768.9" r="3.6"/><circle cx="1590.8" cy="771.0" r="3.6"/><circle cx="1585.9" cy="775.7" r="3.6"/></g>
<path d="M1430.3 399.3 V386.1 H1583.2 V399.3" stroke="#231f20" stroke-width="2.9" fill="none" stroke-linejoin="round"/>
<text x="1504.1" y="390.78" font-size="35" text-anchor="middle" fill="#231f20" letter-spacing="1.4">****</text>
<path d="M1428.9 438.7 V426 H1505.3 V438.7" stroke="#231f20" stroke-width="2.9" fill="none" stroke-linejoin="round"/>
<text x="1469.4" y="431.78" font-size="35" text-anchor="middle" fill="#231f20" letter-spacing="1.4">****</text>
<path d="M1511.9 439 V426 H1583.2 V439" stroke="#231f20" stroke-width="2.9" fill="none" stroke-linejoin="round"/>
<text x="1548.4" y="416.7" font-size="27" text-anchor="middle" fill="#231f20" textLength="36" lengthAdjust="spacingAndGlyphs">NS</text>
<text x="1442.4" y="887" font-size="23.3" text-anchor="end" fill="#231f20" transform="rotate(-39 1442.4 887)" textLength="34.5" lengthAdjust="spacingAndGlyphs">WT</text>
<text x="1517.8" y="885.7" font-size="23.3" text-anchor="end" fill="#231f20" transform="rotate(-39 1517.8 885.7)" textLength="106" lengthAdjust="spacingAndGlyphs">UNC0642</text>
<text x="1598.3" y="886.6" font-size="23.3" text-anchor="end" fill="#231f20" transform="rotate(-39 1598.3 886.6)">G9a<tspan font-size="16.3" dy="-8.6">−/−</tspan></text>
<!-- panel c: schematic -->
<text x="265.4" y="1086.1" font-size="40" text-anchor="start" fill="#231f20" font-weight="bold" textLength="24.5" lengthAdjust="spacingAndGlyphs" stroke="#231f20" stroke-width="0.9">c</text>
<text x="401.7" y="1097.3" font-size="28" text-anchor="middle" fill="#231f20" textLength="139" lengthAdjust="spacingAndGlyphs">±UNC0642</text>
<text x="401.5" y="1128.4" font-size="28" text-anchor="middle" fill="#231f20">2 h</text>
<text x="693.2" y="1113.5" font-size="28" text-anchor="middle" fill="#231f20" textLength="139" lengthAdjust="spacingAndGlyphs">±UNC0642</text>
<text x="992" y="1097.3" font-size="28" text-anchor="middle" fill="#231f20" textLength="164" lengthAdjust="spacingAndGlyphs">±S1 nuclease</text>
<text x="991.8" y="1128.4" font-size="28" text-anchor="middle" fill="#231f20">30′</text>
<line x1="306.5" y1="1146.1" x2="497.8" y2="1146.1" stroke="#231f20" stroke-width="3.2" stroke-linecap="butt" stroke-dasharray="14.72 14.72"/>
<line x1="497.8" y1="1146.1" x2="889.1" y2="1146.1" stroke="#231f20" stroke-width="3.2" stroke-linecap="butt" stroke-dasharray="14.72 14.72"/>
<line x1="889.1" y1="1146.1" x2="1066" y2="1146.1" stroke="#231f20" stroke-width="3.2" stroke-linecap="butt" stroke-dasharray="14.3 12.7"/>
<line x1="306.5" y1="1135.2" x2="306.5" y2="1157" stroke="#231f20" stroke-width="3.4" stroke-linecap="butt"/>
<line x1="497.8" y1="1135.2" x2="497.8" y2="1156.6" stroke="#231f20" stroke-width="3.4" stroke-linecap="butt"/>
<line x1="889.1" y1="1135.2" x2="889.1" y2="1156.6" stroke="#231f20" stroke-width="3.4" stroke-linecap="butt"/>
<path d="M306.3 1153.5V1156.2M306.3 1159.4V1167.5M306.3 1176.0V1184.1M306.3 1192.7V1201.1M306.3 1209.5V1217.7M306.3 1225.9V1237.2M306.3 1242.7V1251.0" stroke="#231f20" stroke-width="3.9" fill="none"/>
<path d="M306.3 1266 L299.40000000000003 1249.2 Q303.3 1251.8 306.3 1252.6 Q309.3 1251.8 313.2 1249.2 Z" fill="#231f20"/>
<line x1="306" y1="1265.4" x2="500.5" y2="1265.4" stroke="#231f20" stroke-width="3.2" stroke-linecap="butt" stroke-dasharray="14.72 14.72"/>
<line x1="501" y1="1265.2" x2="568" y2="1265.2" stroke="#ed1c24" stroke-width="4.1" stroke-linecap="butt"/>
<line x1="575" y1="1265.2" x2="764.1" y2="1265.2" stroke="#231f20" stroke-width="4.1" stroke-linecap="butt"/>
<path transform="translate(579 1265.2) rotate(0)" d="M0 0 L-15 -6.75 L-11 0 L-15 6.75 Z" fill="#ed1c24"/>
<line x1="513.4" y1="1263.1" x2="513.4" y2="1267.3" stroke="#231f20" stroke-width="2.4" stroke-linecap="butt"/>
<line x1="764.1" y1="1265.2" x2="880" y2="1265.2" stroke="#62bb46" stroke-width="4.1" stroke-linecap="butt"/>
<path transform="translate(891.8 1265.2) rotate(0)" d="M0 0 L-17 -7.0 L-12.5 0 L-17 7.0 Z" fill="#62bb46"/>
<text x="537" y="1219.3" font-size="28" text-anchor="middle" fill="#231f20" textLength="65.6" lengthAdjust="spacingAndGlyphs">CldU</text>
<text x="537.3" y="1250.4" font-size="28" text-anchor="middle" fill="#231f20">20′</text>
<text x="672.8" y="1219.3" font-size="28" text-anchor="middle" fill="#231f20" textLength="112" lengthAdjust="spacingAndGlyphs">1 mM HU</text>
<text x="673" y="1250.4" font-size="28" text-anchor="middle" fill="#231f20">60′</text>
<text x="821.6" y="1219.3" font-size="28" text-anchor="middle" fill="#231f20">IdU</text>
<text x="821.6" y="1250.4" font-size="28" text-anchor="middle" fill="#231f20">60′</text>
<line x1="1093.7" y1="1202.5" x2="1204" y2="1202.5" stroke="#231f20" stroke-width="7.5" stroke-linecap="butt" stroke-dasharray="7.3 9.7"/>
<path d="M1236.3 1202.5 L1202 1189.2 L1209.3 1202.5 L1202 1215.9 Z" fill="#231f20"/>
<text x="1446.1" y="1131.7" font-size="28" text-anchor="middle" fill="#231f20" textLength="139" lengthAdjust="spacingAndGlyphs">ssDNA gap</text>
<line x1="1445.7" y1="1135.1" x2="1445.7" y2="1141.3" stroke="#231f20" stroke-width="1.9" stroke-linecap="butt" stroke-dasharray="2 2.1"/>
<path d="M1445.7 1152.1 L1441.4 1142.1 Q1445.7 1144.9 1450 1142.1 Z" fill="#231f20"/>
<line x1="1323.6" y1="1161.5" x2="1523" y2="1161.5" stroke="#231f20" stroke-width="3.1" stroke-linecap="butt"/>
<line x1="1323.6" y1="1171.9" x2="1369.1" y2="1171.9" stroke="#ed1c24" stroke-width="3.7" stroke-linecap="butt"/>
<line x1="1369.1" y1="1171.9" x2="1435.9" y2="1171.9" stroke="#62bb46" stroke-width="3.7" stroke-linecap="butt"/>
<line x1="1456.3" y1="1171.9" x2="1523.6" y2="1171.9" stroke="#62bb46" stroke-width="3.7" stroke-linecap="butt"/>
<g stroke="#414042" stroke-width="1.3" fill="none" stroke-linecap="round" stroke-linejoin="round"><path d="M1449.8 1157.5 L1450.3 1174 L1452.4 1174 Z" fill="#414042" stroke-width="0.8"/><path d="M1438.3 1163 L1450 1174.6 L1451.6 1172.9 Z" fill="#414042" stroke-width="0.8"/><path d="M1451.2 1174.2 L1452.5 1188.6"/><path d="M1451.2 1174.2 L1464.2 1184.9"/><ellipse cx="1450" cy="1193.4" rx="3.5" ry="4.1" fill="#fff" transform="rotate(-12 1450 1193.4)"/><ellipse cx="1467.8" cy="1184.4" rx="4.1" ry="3.6" fill="#fff" transform="rotate(35 1467.8 1184.4)"/></g>
<line x1="1361.7" y1="1181" x2="1361.7" y2="1238" stroke="#231f20" stroke-width="1.8" stroke-linecap="butt"/>
<path d="M1361.7 1247.6 L1356.6 1234.8 L1361.7 1237 L1366.8 1234.8 Z" fill="#231f20"/>
<text x="1458.7" y="1227.2" font-size="28" text-anchor="middle" fill="#231f20" textLength="165.5" lengthAdjust="spacingAndGlyphs">S1 cleaveage</text>
<line x1="1323.2" y1="1251.9" x2="1431.6" y2="1251.9" stroke="#231f20" stroke-width="3.2" stroke-linecap="butt"/>
<line x1="1323.2" y1="1260.1" x2="1368.1" y2="1260.1" stroke="#ed1c24" stroke-width="3.2" stroke-linecap="butt"/>
<line x1="1368.1" y1="1260.1" x2="1432.7" y2="1260.1" stroke="#62bb46" stroke-width="3.2" stroke-linecap="butt"/>
<!-- panel c: chart -->
<line x1="711.6" y1="1466.8999999999999" x2="711.6" y2="1949.7" stroke="#4d4d4f" stroke-width="1.4" stroke-linecap="butt"/>
<line x1="701.2" y1="1949" x2="1195.9" y2="1949" stroke="#4d4d4f" stroke-width="1.4" stroke-linecap="butt"/>
<line x1="701.2" y1="1467.6" x2="711.6" y2="1467.6" stroke="#4d4d4f" stroke-width="1.4" stroke-linecap="butt"/>
<text x="689.9" y="1475.1" font-size="24.5" text-anchor="end" fill="#231f20" textLength="22.5" lengthAdjust="spacingAndGlyphs">15</text>
<line x1="701.2" y1="1628.5" x2="711.6" y2="1628.5" stroke="#4d4d4f" stroke-width="1.4" stroke-linecap="butt"/>
<text x="689.9" y="1636.0" font-size="24.5" text-anchor="end" fill="#231f20" textLength="25.5" lengthAdjust="spacingAndGlyphs">10</text>
<line x1="701.2" y1="1788.5" x2="711.6" y2="1788.5" stroke="#4d4d4f" stroke-width="1.4" stroke-linecap="butt"/>
<text x="689.9" y="1796.0" font-size="24.5" text-anchor="end" fill="#231f20">5</text>
<line x1="701.2" y1="1949" x2="711.6" y2="1949" stroke="#4d4d4f" stroke-width="1.4" stroke-linecap="butt"/>
<text x="689.9" y="1956.5" font-size="24.5" text-anchor="end" fill="#231f20">0</text>
<line x1="762.4" y1="1949" x2="762.4" y2="1959.7" stroke="#4d4d4f" stroke-width="1.4" stroke-linecap="butt"/>
<line x1="838.1" y1="1949" x2="838.1" y2="1959.7" stroke="#4d4d4f" stroke-width="1.4" stroke-linecap="butt"/>
<line x1="913.5" y1="1949" x2="913.5" y2="1959.7" stroke="#4d4d4f" stroke-width="1.4" stroke-linecap="butt"/>
<line x1="989.5" y1="1949" x2="989.5" y2="1959.7" stroke="#4d4d4f" stroke-width="1.4" stroke-linecap="butt"/>
<line x1="1065.4" y1="1949" x2="1065.4" y2="1959.7" stroke="#4d4d4f" stroke-width="1.4" stroke-linecap="butt"/>
<line x1="1140.8" y1="1949" x2="1140.8" y2="1959.7" stroke="#4d4d4f" stroke-width="1.4" stroke-linecap="butt"/>
<text x="638.8" y="1709.3" font-size="28" text-anchor="middle" fill="#231f20" transform="rotate(-90 638.8 1709.3)" textLength="270" lengthAdjust="spacingAndGlyphs">IdU track length (µm)</text>
<line x1="762.2" y1="1549.2" x2="762.2" y2="1610.2" stroke="#231f20" stroke-width="3.3" stroke-linecap="butt"/>
<line x1="762.2" y1="1702.4" x2="762.2" y2="1753.9" stroke="#231f20" stroke-width="3.3" stroke-linecap="butt"/>
<line x1="749.95" y1="1549.2" x2="774.45" y2="1549.2" stroke="#231f20" stroke-width="3.3" stroke-linecap="butt"/>
<line x1="749.95" y1="1753.9" x2="774.45" y2="1753.9" stroke="#231f20" stroke-width="3.3" stroke-linecap="butt"/>
<rect x="739.5500000000001" y="1610.2" width="45.3" height="92.20000000000005" fill="#dcddde" stroke="#231f20" stroke-width="3.3" stroke-linejoin="round"/>
<line x1="739.5500000000001" y1="1661.1" x2="784.85" y2="1661.1" stroke="#231f20" stroke-width="3.3" stroke-linecap="butt"/>
<line x1="838" y1="1655.1" x2="838" y2="1713.7" stroke="#231f20" stroke-width="3.3" stroke-linecap="butt"/>
<line x1="838" y1="1788.6" x2="838" y2="1827.6" stroke="#231f20" stroke-width="3.3" stroke-linecap="butt"/>
<line x1="825.75" y1="1655.1" x2="850.25" y2="1655.1" stroke="#231f20" stroke-width="3.3" stroke-linecap="butt"/>
<line x1="825.75" y1="1827.6" x2="850.25" y2="1827.6" stroke="#231f20" stroke-width="3.3" stroke-linecap="butt"/>
<rect x="815.35" y="1713.7" width="45.3" height="74.89999999999986" fill="#dcddde" stroke="#231f20" stroke-width="3.3" stroke-linejoin="round"/>
<line x1="815.35" y1="1749.1" x2="860.65" y2="1749.1" stroke="#231f20" stroke-width="3.3" stroke-linecap="butt"/>
<line x1="913.6" y1="1624.9" x2="913.6" y2="1686.2" stroke="#231f20" stroke-width="3.3" stroke-linecap="butt"/>
<line x1="913.6" y1="1792.4" x2="913.6" y2="1828.3" stroke="#231f20" stroke-width="3.3" stroke-linecap="butt"/>
<line x1="901.35" y1="1624.9" x2="925.85" y2="1624.9" stroke="#231f20" stroke-width="3.3" stroke-linecap="butt"/>
<line x1="901.35" y1="1828.3" x2="925.85" y2="1828.3" stroke="#231f20" stroke-width="3.3" stroke-linecap="butt"/>
<rect x="890.95" y="1686.2" width="45.3" height="106.20000000000005" fill="#dcddde" stroke="#231f20" stroke-width="3.3" stroke-linejoin="round"/>
<line x1="890.95" y1="1749.5" x2="936.25" y2="1749.5" stroke="#231f20" stroke-width="3.3" stroke-linecap="butt"/>
<line x1="989.6" y1="1561" x2="989.6" y2="1610.2" stroke="#231f20" stroke-width="3.3" stroke-linecap="butt"/>
<line x1="989.6" y1="1714.2" x2="989.6" y2="1774.4" stroke="#231f20" stroke-width="3.3" stroke-linecap="butt"/>
<line x1="977.35" y1="1561" x2="1001.85" y2="1561" stroke="#231f20" stroke-width="3.3" stroke-linecap="butt"/>
<line x1="977.35" y1="1774.4" x2="1001.85" y2="1774.4" stroke="#231f20" stroke-width="3.3" stroke-linecap="butt"/>
<rect x="966.95" y="1610.2" width="45.3" height="104.0" fill="#f47f80" stroke="#231f20" stroke-width="3.3" stroke-linejoin="round"/>
<line x1="966.95" y1="1667.1" x2="1012.25" y2="1667.1" stroke="#231f20" stroke-width="3.3" stroke-linecap="butt"/>
<line x1="1065.3" y1="1693.3" x2="1065.3" y2="1744" stroke="#231f20" stroke-width="3.3" stroke-linecap="butt"/>
<line x1="1065.3" y1="1824" x2="1065.3" y2="1858.2" stroke="#231f20" stroke-width="3.3" stroke-linecap="butt"/>
<line x1="1053.05" y1="1693.3" x2="1077.55" y2="1693.3" stroke="#231f20" stroke-width="3.3" stroke-linecap="butt"/>
<line x1="1053.05" y1="1858.2" x2="1077.55" y2="1858.2" stroke="#231f20" stroke-width="3.3" stroke-linecap="butt"/>
<rect x="1042.6499999999999" y="1744" width="45.3" height="80" fill="#f47f80" stroke="#231f20" stroke-width="3.3" stroke-linejoin="round"/>
<line x1="1042.6499999999999" y1="1788.4" x2="1087.9499999999998" y2="1788.4" stroke="#231f20" stroke-width="3.3" stroke-linecap="butt"/>
<line x1="1141.3" y1="1746" x2="1141.3" y2="1788.8" stroke="#231f20" stroke-width="3.3" stroke-linecap="butt"/>
<line x1="1141.3" y1="1832.7" x2="1141.3" y2="1856.8" stroke="#231f20" stroke-width="3.3" stroke-linecap="butt"/>
<line x1="1129.05" y1="1746" x2="1153.55" y2="1746" stroke="#231f20" stroke-width="3.3" stroke-linecap="butt"/>
<line x1="1129.05" y1="1856.8" x2="1153.55" y2="1856.8" stroke="#231f20" stroke-width="3.3" stroke-linecap="butt"/>
<rect x="1118.6499999999999" y="1788.8" width="45.3" height="43.90000000000009" fill="#f47f80" stroke="#231f20" stroke-width="3.3" stroke-linejoin="round"/>
<line x1="1118.6499999999999" y1="1805.1" x2="1163.9499999999998" y2="1805.1" stroke="#231f20" stroke-width="3.3" stroke-linecap="butt"/>
<g fill="#231f20"><circle cx="757.2" cy="1488.8" r="3.6"/><circle cx="767.2" cy="1488.3" r="3.6"/><circle cx="762.1" cy="1506.4" r="3.6"/><circle cx="762.1" cy="1515.2" r="3.6"/><circle cx="762.1" cy="1525.2" r="3.6"/><circle cx="757.2" cy="1530.5" r="3.6"/><circle cx="767.2" cy="1532.8" r="3.6"/><circle cx="762.1" cy="1538.1" r="3.6"/><circle cx="772.1" cy="1545.3" r="3.6"/><circle cx="762.1" cy="1548.5" r="3.6"/><circle cx="757.2" cy="1756.0" r="3.6"/><circle cx="767.0" cy="1756.0" r="3.6"/><circle cx="762.1" cy="1766.2" r="3.6"/><circle cx="742.9" cy="1770.6" r="3.6"/><circle cx="771.8" cy="1772.3" r="3.6"/><circle cx="781.4" cy="1772.3" r="3.6"/><circle cx="762.1" cy="1775.2" r="3.6"/><circle cx="771.8" cy="1788.7" r="3.6"/><circle cx="762.1" cy="1791.9" r="3.6"/><circle cx="762.1" cy="1804.6" r="3.6"/><circle cx="762.1" cy="1810.6" r="3.6"/><circle cx="762.1" cy="1827.9" r="3.6"/><circle cx="771.8" cy="1835.2" r="3.6"/><circle cx="762.1" cy="1838.0" r="3.6"/><circle cx="762.1" cy="1889.7" r="3.6"/><circle cx="838.1" cy="1496.4" r="3.6"/><circle cx="838.1" cy="1559.2" r="3.6"/><circle cx="838.1" cy="1576.7" r="3.6"/><circle cx="838.1" cy="1585.3" r="3.6"/><circle cx="838.1" cy="1614.1" r="3.6"/><circle cx="838.1" cy="1618.7" r="3.6"/><circle cx="838.1" cy="1627.7" r="3.6"/><circle cx="833.0" cy="1632.6" r="3.6"/><circle cx="823.5" cy="1639.1" r="3.6"/><circle cx="833.0" cy="1638.4" r="3.6"/><circle cx="842.7" cy="1636.8" r="3.6"/><circle cx="852.4" cy="1637.0" r="3.6"/><circle cx="842.7" cy="1644.4" r="3.6"/><circle cx="833.0" cy="1647.9" r="3.6"/><circle cx="842.7" cy="1650.0" r="3.6"/><circle cx="833.0" cy="1827.6" r="3.6"/><circle cx="823.5" cy="1832.0" r="3.6"/><circle cx="842.7" cy="1832.0" r="3.6"/><circle cx="852.4" cy="1832.0" r="3.6"/><circle cx="838.1" cy="1836.9" r="3.6"/><circle cx="833.0" cy="1842.2" r="3.6"/><circle cx="842.7" cy="1842.4" r="3.6"/><circle cx="823.5" cy="1847.3" r="3.6"/><circle cx="833.0" cy="1847.7" r="3.6"/><circle cx="842.7" cy="1851.6" r="3.6"/><circle cx="838.1" cy="1866.8" r="3.6"/><circle cx="838.1" cy="1872.0" r="3.6"/><circle cx="838.1" cy="1885.9" r="3.6"/><circle cx="847.6" cy="1887.3" r="3.6"/><circle cx="828.4" cy="1890.5" r="3.6"/><circle cx="908.7" cy="1549.6" r="3.6"/><circle cx="918.4" cy="1552.4" r="3.6"/><circle cx="908.7" cy="1569.4" r="3.6"/><circle cx="918.4" cy="1570.3" r="3.6"/><circle cx="918.4" cy="1577.0" r="3.6"/><circle cx="908.7" cy="1580.9" r="3.6"/><circle cx="918.4" cy="1584.0" r="3.6"/><circle cx="908.7" cy="1590.9" r="3.6"/><circle cx="918.4" cy="1595.1" r="3.6"/><circle cx="908.7" cy="1597.2" r="3.6"/><circle cx="908.7" cy="1602.0" r="3.6"/><circle cx="918.4" cy="1603.4" r="3.6"/><circle cx="928.2" cy="1606.2" r="3.6"/><circle cx="908.7" cy="1610.6" r="3.6"/><circle cx="913.9" cy="1623.6" r="3.6"/><circle cx="908.7" cy="1828.0" r="3.6"/><circle cx="918.4" cy="1828.0" r="3.6"/><circle cx="928.2" cy="1839.7" r="3.6"/><circle cx="899.3" cy="1843.8" r="3.6"/><circle cx="908.7" cy="1844.3" r="3.6"/><circle cx="918.4" cy="1844.0" r="3.6"/><circle cx="913.9" cy="1852.2" r="3.6"/><circle cx="913.9" cy="1857.5" r="3.6"/><circle cx="928.2" cy="1863.3" r="3.6"/><circle cx="908.7" cy="1866.5" r="3.6"/><circle cx="918.4" cy="1867.6" r="3.6"/><circle cx="918.4" cy="1874.8" r="3.6"/><circle cx="908.7" cy="1879.3" r="3.6"/><circle cx="918.4" cy="1882.1" r="3.6"/><circle cx="913.9" cy="1904.4" r="3.6"/><circle cx="989.6" cy="1481.1" r="3.6"/><circle cx="989.6" cy="1507.1" r="3.6"/><circle cx="984.5" cy="1514.9" r="3.6"/><circle cx="994.5" cy="1516.6" r="3.6"/><circle cx="984.5" cy="1526.3" r="3.6"/><circle cx="994.5" cy="1526.0" r="3.6"/><circle cx="999.3" cy="1536.0" r="3.6"/><circle cx="989.6" cy="1539.1" r="3.6"/><circle cx="989.6" cy="1546.0" r="3.6"/><circle cx="989.6" cy="1553.0" r="3.6"/><circle cx="979.6" cy="1557.1" r="3.6"/><circle cx="989.6" cy="1559.6" r="3.6"/><circle cx="984.5" cy="1775.5" r="3.6"/><circle cx="994.5" cy="1775.0" r="3.6"/><circle cx="989.6" cy="1782.0" r="3.6"/><circle cx="979.6" cy="1788.2" r="3.6"/><circle cx="989.6" cy="1788.7" r="3.6"/><circle cx="999.3" cy="1788.2" r="3.6"/><circle cx="989.6" cy="1794.5" r="3.6"/><circle cx="989.6" cy="1800.5" r="3.6"/><circle cx="989.6" cy="1806.5" r="3.6"/><circle cx="979.6" cy="1808.4" r="3.6"/><circle cx="999.3" cy="1809.8" r="3.6"/><circle cx="999.3" cy="1839.0" r="3.6"/><circle cx="989.6" cy="1842.2" r="3.6"/><circle cx="999.3" cy="1844.3" r="3.6"/><circle cx="979.6" cy="1846.3" r="3.6"/><circle cx="1065.3" cy="1490.6" r="3.6"/><circle cx="1065.3" cy="1551.6" r="3.6"/><circle cx="1065.3" cy="1582.3" r="3.6"/><circle cx="1065.3" cy="1589.8" r="3.6"/><circle cx="1065.3" cy="1599.9" r="3.6"/><circle cx="1065.3" cy="1606.2" r="3.6"/><circle cx="1055.6" cy="1611.1" r="3.6"/><circle cx="1065.3" cy="1612.7" r="3.6"/><circle cx="1075.1" cy="1613.1" r="3.6"/><circle cx="1065.3" cy="1630.1" r="3.6"/><circle cx="1065.3" cy="1652.7" r="3.6"/><circle cx="1065.3" cy="1684.7" r="3.6"/><circle cx="1055.6" cy="1688.6" r="3.6"/><circle cx="1075.1" cy="1689.3" r="3.6"/><circle cx="1065.3" cy="1692.1" r="3.6"/><circle cx="1055.6" cy="1858.8" r="3.6"/><circle cx="1075.1" cy="1859.3" r="3.6"/><circle cx="1055.6" cy="1864.4" r="3.6"/><circle cx="1065.3" cy="1865.4" r="3.6"/><circle cx="1055.6" cy="1870.0" r="3.6"/><circle cx="1055.6" cy="1874.8" r="3.6"/><circle cx="1065.3" cy="1874.1" r="3.6"/><circle cx="1075.1" cy="1876.5" r="3.6"/><circle cx="1065.3" cy="1882.5" r="3.6"/><circle cx="1060.5" cy="1887.3" r="3.6"/><circle cx="1070.2" cy="1888.0" r="3.6"/><circle cx="1055.6" cy="1898.0" r="3.6"/><circle cx="1065.3" cy="1897.1" r="3.6"/><circle cx="1075.1" cy="1897.1" r="3.6"/><circle cx="1141.1" cy="1678.7" r="3.6"/><circle cx="1136.2" cy="1686.8" r="3.6"/><circle cx="1145.9" cy="1691.4" r="3.6"/><circle cx="1136.2" cy="1699.0" r="3.6"/><circle cx="1145.9" cy="1700.0" r="3.6"/><circle cx="1141.1" cy="1710.6" r="3.6"/><circle cx="1141.1" cy="1717.8" r="3.6"/><circle cx="1131.4" cy="1722.0" r="3.6"/><circle cx="1160.5" cy="1722.2" r="3.6"/><circle cx="1131.4" cy="1726.8" r="3.6"/><circle cx="1141.1" cy="1726.4" r="3.6"/><circle cx="1150.8" cy="1733.4" r="3.6"/><circle cx="1141.1" cy="1737.2" r="3.6"/><circle cx="1150.8" cy="1743.1" r="3.6"/><circle cx="1141.1" cy="1744.2" r="3.6"/><circle cx="1121.9" cy="1860.2" r="3.6"/><circle cx="1150.8" cy="1857.5" r="3.6"/><circle cx="1160.5" cy="1858.4" r="3.6"/><circle cx="1141.1" cy="1860.2" r="3.6"/><circle cx="1150.8" cy="1863.0" r="3.6"/><circle cx="1141.1" cy="1865.4" r="3.6"/><circle cx="1121.9" cy="1870.9" r="3.6"/><circle cx="1131.4" cy="1867.9" r="3.6"/><circle cx="1141.1" cy="1871.4" r="3.6"/><circle cx="1131.4" cy="1874.1" r="3.6"/><circle cx="1150.8" cy="1874.8" r="3.6"/><circle cx="1141.1" cy="1876.9" r="3.6"/><circle cx="1136.2" cy="1882.5" r="3.6"/><circle cx="1145.9" cy="1882.7" r="3.6"/><circle cx="1141.1" cy="1893.2" r="3.6"/></g>
<path d="M760.7 1472.1 V1462.7 H831.9 V1472.1" stroke="#231f20" stroke-width="2.9" fill="none" stroke-linejoin="round"/>
<text x="802.7" y="1464.67" font-size="35" text-anchor="middle" fill="#231f20" letter-spacing="1.4">****</text>
<path d="M842.5 1472.1 V1462.7 H913.5 V1472.1" stroke="#231f20" stroke-width="2.9" fill="none" stroke-linejoin="round"/>
<text x="880.1" y="1456.7" font-size="27" text-anchor="middle" fill="#231f20" textLength="36" lengthAdjust="spacingAndGlyphs">NS</text>
<path d="M760.7 1436.5 V1427.9 H909.9 V1436.5" stroke="#231f20" stroke-width="2.9" fill="none" stroke-linejoin="round"/>
<text x="842.6" y="1433.47" font-size="35" text-anchor="middle" fill="#231f20" letter-spacing="1.4">****</text>
<path d="M760.7 1402.1 V1395.4 H989.5 V1402.1" stroke="#231f20" stroke-width="2.9" fill="none" stroke-linejoin="round"/>
<text x="880.1" y="1388.6" font-size="27" text-anchor="middle" fill="#231f20" textLength="36" lengthAdjust="spacingAndGlyphs">NS</text>
<path d="M842.5 1370 V1363.5 H1070.6 V1370" stroke="#231f20" stroke-width="2.9" fill="none" stroke-linejoin="round"/>
<text x="963.4" y="1370.47" font-size="35" text-anchor="middle" fill="#231f20" letter-spacing="1.4">****</text>
<path d="M913.7 1343.7 V1336.6 H1141.9 V1343.7" stroke="#231f20" stroke-width="2.9" fill="none" stroke-linejoin="round"/>
<text x="1036.9" y="1342.88" font-size="35" text-anchor="middle" fill="#231f20" letter-spacing="1.4">****</text>
<path d="M991.3 1436.5 V1428 H1140.3 V1436.5" stroke="#231f20" stroke-width="2.9" fill="none" stroke-linejoin="round"/>
<text x="1070.1" y="1433.88" font-size="35" text-anchor="middle" fill="#231f20" letter-spacing="1.4">****</text>
<path d="M991.3 1472.1 V1462.9 H1062.1 V1472.1" stroke="#231f20" stroke-width="2.9" fill="none" stroke-linejoin="round"/>
<text x="1033.4" y="1464.97" font-size="35" text-anchor="middle" fill="#231f20" letter-spacing="1.4">****</text>
<path d="M1069.1 1472.1 V1462.9 H1140.3 V1472.1" stroke="#231f20" stroke-width="2.9" fill="none" stroke-linejoin="round"/>
<text x="1108.3" y="1464.97" font-size="35" text-anchor="middle" fill="#231f20">*</text>
<text x="773.3" y="1984.3" font-size="23.3" text-anchor="end" fill="#231f20" transform="rotate(-39 773.3 1984.3)" textLength="34.5" lengthAdjust="spacingAndGlyphs">WT</text>
<text x="850.4" y="1982.8" font-size="23.3" text-anchor="end" fill="#231f20" transform="rotate(-39 850.4 1982.8)" textLength="106" lengthAdjust="spacingAndGlyphs">UNC0642</text>
<text x="925.8" y="1983" font-size="23.3" text-anchor="end" fill="#231f20" transform="rotate(-39 925.8 1983)">G9a<tspan font-size="16.3" dy="-8.6">−/−</tspan></text>
<text x="1000.4" y="1984.3" font-size="23.3" text-anchor="end" fill="#231f20" transform="rotate(-39 1000.4 1984.3)" textLength="34.5" lengthAdjust="spacingAndGlyphs">WT</text>
<text x="1077.5" y="1982.8" font-size="23.3" text-anchor="end" fill="#231f20" transform="rotate(-39 1077.5 1982.8)" textLength="106" lengthAdjust="spacingAndGlyphs">UNC0642</text>
<text x="1152.9" y="1983" font-size="23.3" text-anchor="end" fill="#231f20" transform="rotate(-39 1152.9 1983)">G9a<tspan font-size="16.3" dy="-8.6">−/−</tspan></text>
<line x1="716.5" y1="2060.2" x2="942.6" y2="2060.2" stroke="#231f20" stroke-width="3.6" stroke-linecap="butt"/>
<line x1="954.3" y1="2060.2" x2="1180.5" y2="2060.2" stroke="#231f20" stroke-width="3.6" stroke-linecap="butt"/>
<text x="829.6" y="2095.4" font-size="28" text-anchor="middle" fill="#231f20" textLength="163.5" lengthAdjust="spacingAndGlyphs">−S1 nuclease</text>
<text x="1067.2" y="2095.4" font-size="28" text-anchor="middle" fill="#231f20" textLength="163.5" lengthAdjust="spacingAndGlyphs">+S1 nuclease</text>
</svg>
</body>
</html>
